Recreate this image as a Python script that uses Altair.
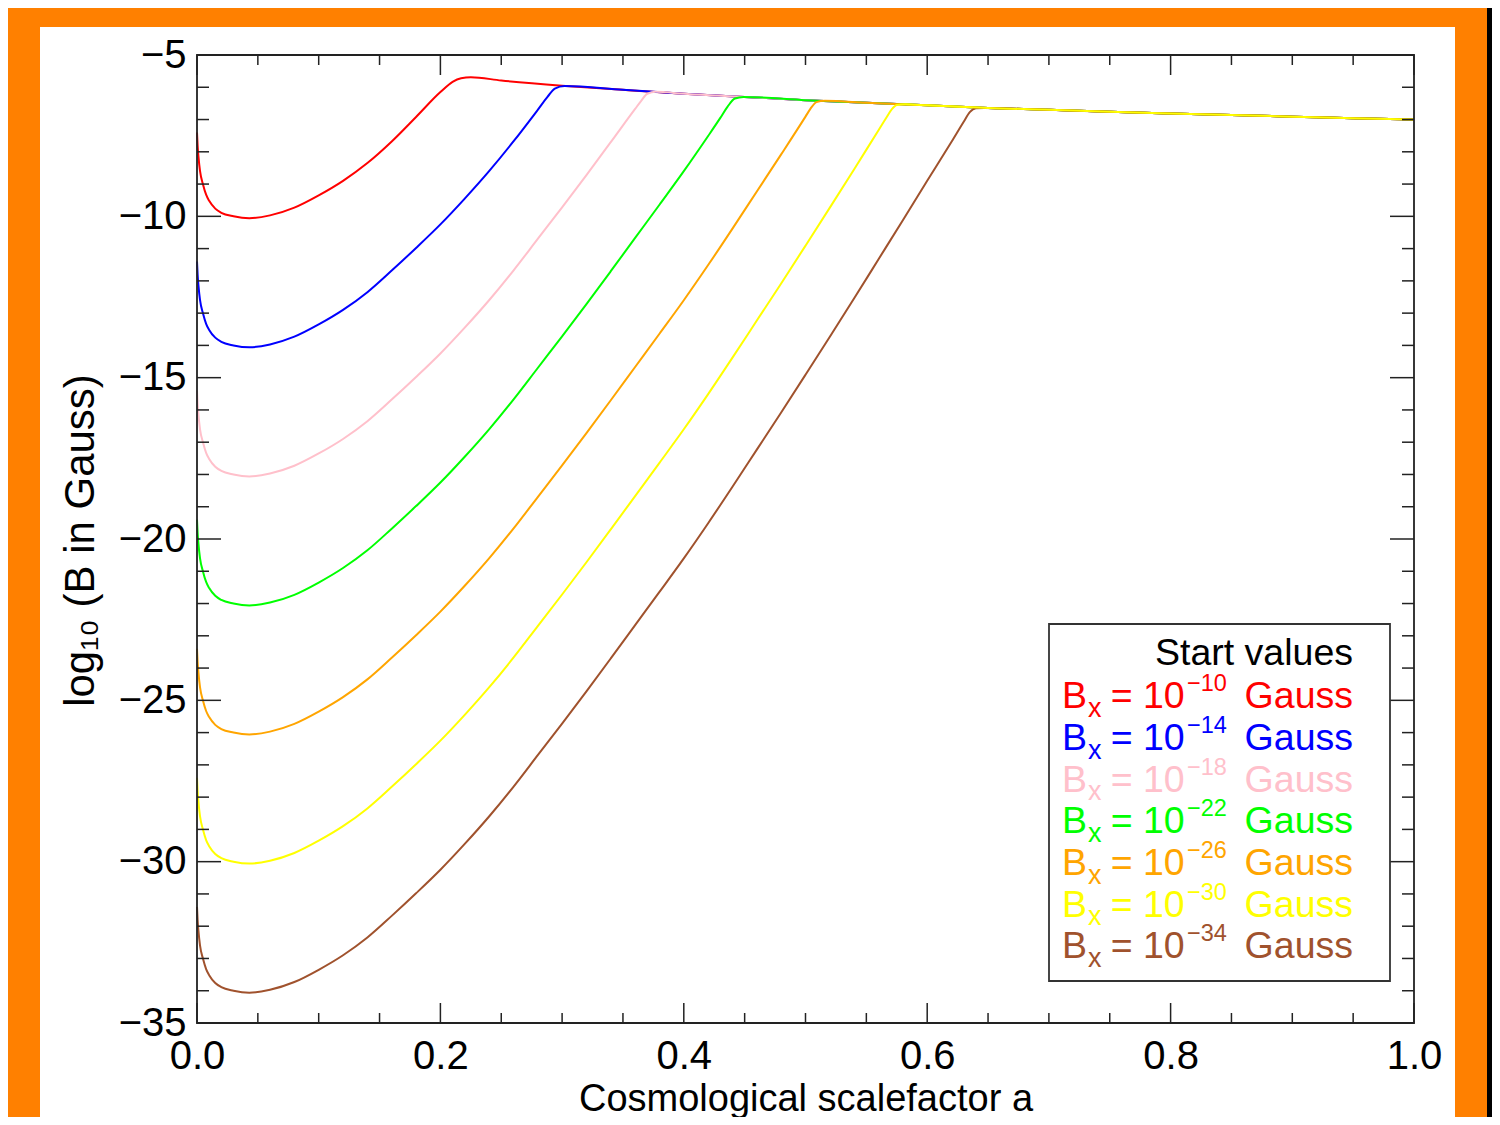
import altair as alt
import pandas as pd

# ---------------- data ----------------
series_names = ["s0 1e-10", "s1 1e-14", "s2 1e-18", "s3 1e-22", "s4 1e-26", "s6 1e-30", "s5 1e-34"]
series_colors = ["#FF0000", "#0000FF", "#FFC0CB", "#00FF00", "#FFA500", "#FFFF00", "#A0522D"]
legend_exps = ["\u221210", "\u221214", "\u221218", "\u221222", "\u221226", "\u221230", "\u221234"]

a_early = [0.0, 0.0005, 0.0012, 0.0025, 0.005, 0.0075, 0.01, 0.015, 0.02, 0.03, 0.043, 0.06, 0.08, 0.10, 0.12, 0.14, 0.16]

red_a = a_early + [0.18, 0.20, 0.21, 0.217, 0.225]
red_v = [-7.4, -7.8, -8.15, -8.6, -9.02, -9.33, -9.52, -9.76, -9.89, -10.0, -10.06, -9.97, -9.73, -9.35, -8.9, -8.35, -7.68,
         -6.92, -6.15, -5.83, -5.72, -5.69]

blue_a = a_early + [0.18, 0.20, 0.22, 0.24, 0.26, 0.28, 0.288, 0.294, 0.302]
blue_v = [-11.4, -11.8, -12.15, -12.6, -13.02, -13.33, -13.52, -13.76, -13.89, -14.0, -14.06, -13.97, -13.73, -13.35, -12.9, -12.35, -11.68,
          -10.98, -10.25, -9.45, -8.6, -7.68, -6.7, -6.3, -6.04, -5.96]

pink_a = a_early + [0.18, 0.20, 0.22, 0.24, 0.26, 0.28, 0.30, 0.32, 0.34, 0.36, 0.365, 0.37, 0.377]
pink_v = [-15.4, -15.8, -16.15, -16.6, -17.02, -17.33, -17.52, -17.76, -17.89, -18.0, -18.06, -17.97, -17.73, -17.35, -16.9, -16.35, -15.68,
          -14.98, -14.25, -13.45, -12.6, -11.68, -10.7, -9.72, -8.72, -7.7, -6.67, -6.42, -6.2, -6.14]

green_a = a_early + [0.18, 0.20, 0.22, 0.24, 0.26, 0.28, 0.30, 0.32, 0.34, 0.36, 0.38, 0.40, 0.42, 0.43, 0.436, 0.442, 0.449]
green_v = [-19.4, -19.8, -20.15, -20.6, -21.02, -21.33, -21.52, -21.76, -21.89, -22.0, -22.06, -21.97, -21.73, -21.35, -20.9, -20.35, -19.68,
           -18.98, -18.25, -17.45, -16.6, -15.68, -14.7, -13.72, -12.72, -11.7, -10.67, -9.64, -8.6, -7.51, -6.95, -6.6, -6.35, -6.3]

orange_a = a_early + [0.18, 0.20, 0.22, 0.24, 0.26, 0.28, 0.30, 0.32, 0.34, 0.36, 0.38, 0.40, 0.42, 0.44, 0.46, 0.48, 0.50,
                      0.504, 0.509, 0.516]
orange_v = [-23.4, -23.8, -24.15, -24.6, -25.02, -25.33, -25.52, -25.76, -25.89, -26.0, -26.06, -25.97, -25.73, -25.35, -24.9, -24.35, -23.68,
            -22.98, -22.25, -21.45, -20.6, -19.68, -18.7, -17.72, -16.72, -15.7, -14.67, -13.64, -12.6, -11.51, -10.38, -9.23,
            -8.08, -6.91, -6.67, -6.46, -6.42]

yellow_a = a_early + [0.18, 0.20, 0.22, 0.24, 0.26, 0.28, 0.30, 0.32, 0.34, 0.36, 0.38, 0.40, 0.42, 0.44, 0.46, 0.48, 0.50,
                      0.52, 0.54, 0.56, 0.566, 0.571, 0.575, 0.582]
yellow_v = [-27.4, -27.8, -28.15, -28.6, -29.02, -29.33, -29.52, -29.76, -29.89, -30.0, -30.06, -29.97, -29.73, -29.35, -28.9, -28.35, -27.68,
            -26.98, -26.25, -25.45, -24.6, -23.68, -22.7, -21.72, -20.72, -19.7, -18.67, -17.64, -16.6, -15.51, -14.38, -13.23,
            -12.08, -10.91, -9.73, -8.54, -7.33, -6.97, -6.68, -6.55, -6.53]

brown_a = a_early + [0.18, 0.20, 0.22, 0.24, 0.26, 0.28, 0.30, 0.32, 0.34, 0.36, 0.38, 0.40, 0.42, 0.44, 0.46, 0.48, 0.50,
                     0.52, 0.54, 0.56, 0.58, 0.60, 0.62, 0.63, 0.635, 0.64, 0.647]
brown_v = [-31.4, -31.8, -32.15, -32.6, -33.02, -33.33, -33.52, -33.76, -33.89, -34.0, -34.06, -33.97, -33.73, -33.35, -32.9, -32.35, -31.68,
           -30.98, -30.25, -29.45, -28.6, -27.68, -26.7, -25.72, -24.72, -23.7, -22.67, -21.64, -20.6, -19.51, -18.38, -17.23,
           -16.08, -14.91, -13.73, -12.54, -11.33, -10.12, -8.9, -7.69, -7.07, -6.77, -6.65, -6.64]

# common saturated envelope followed by every curve after its bend
sat_a = [0.25, 0.30, 0.35, 0.40, 0.45, 0.50, 0.55, 0.60, 0.65, 0.70, 0.75, 0.80, 0.85, 0.90, 0.95, 1.0]
sat_v = [-5.79, -5.95, -6.08, -6.2, -6.3, -6.4, -6.48, -6.56, -6.64, -6.7, -6.76, -6.81, -6.86, -6.91, -6.96, -7.0]

x_major = [0.0, 0.2, 0.4, 0.6, 0.8, 1.0]
x_minor = [0.05, 0.1, 0.15, 0.25, 0.3, 0.35, 0.45, 0.5, 0.55, 0.65, 0.7, 0.75, 0.85, 0.9, 0.95]
y_major = [-35, -30, -25, -20, -15, -10, -5]
y_minor = [v for v in range(-34, -5) if v % 5 != 0]

# ---------------- build tables ----------------
rise = [(red_a, red_v), (blue_a, blue_v), (pink_a, pink_v), (green_a, green_v),
        (orange_a, orange_v), (yellow_a, yellow_v), (brown_a, brown_v)]
draw_order = [0, 1, 2, 3, 4, 6, 5]  # yellow drawn last, so it shows on the shared top line
rows = []
for k in draw_order:
    aa, vv = rise[k]
    last = aa[-1]
    pts = list(zip(aa, vv)) + [(sa, sv) for sa, sv in zip(sat_a, sat_v) if sa > last + 0.004]
    for i, (a, v) in enumerate(pts):
        rows.append({"a": a, "v": v, "series": series_names[k], "i": i})
df = pd.DataFrame(rows)

W, H = 1217, 968
SANS = "Liberation Sans, Arial, Helvetica, sans-serif"
ORANGE = "#FF8000"

xs = alt.Scale(domain=[0, 1], nice=False, zero=False)
ys = alt.Scale(domain=[-35, -5], nice=False, zero=False)
one = pd.DataFrame({"z": [0]})


def pxrect(x1, x2, y1, y2, **kw):
    return alt.Chart(one).mark_rect(**kw).encode(
        x=alt.value(x1), x2=alt.value(x2), y=alt.value(y1), y2=alt.value(y2))


# orange frame around the white page (outside the axes area)
frame_bg = [
    pxrect(-200, -157, -60, 1120, fill=ORANGE),
    pxrect(-200, 1300, -60, -28, fill=ORANGE),
    pxrect(1258, 1290, -60, 1120, fill=ORANGE),
    pxrect(1290, 1320, -60, 1120, fill="black"),
]

lines = alt.Chart(df).mark_line(strokeWidth=2, interpolate="monotone").encode(
    x=alt.X("a:Q", scale=xs, axis=alt.Axis(
        values=x_major, format=".1f", grid=False, domain=False, ticks=False, tickSize=0,
        labelFont=SANS, labelFontSize=40, labelPadding=13, labelColor="black",
        labelFlush=False, labelOverlap=False,
        title="Cosmological scalefactor a", titleFont=SANS, titleFontSize=38,
        titleFontWeight="normal", titleColor="black", titleY=87, titleBaseline="alphabetic")),
    y=alt.Y("v:Q", scale=ys, axis=alt.Axis(
        values=y_major, format="d", grid=False, domain=False, ticks=False, tickSize=0,
        labelFont=SANS, labelFontSize=40, labelPadding=11, labelColor="black",
        labelFlush=False, labelOverlap=False,
        title="log\u2081\u2080 (B in Gauss)", titleFont=SANS, titleFontSize=42,
        titleFontWeight="normal", titleColor="black", titleX=-117, titleY=485,
        titleAngle=270, titleAlign="center", titleBaseline="middle")),
    color=alt.Color("series:N", scale=alt.Scale(domain=series_names, range=series_colors), legend=None),
    order="i:Q",
)

TICK = "#222222"
xmaj = pd.DataFrame({"t": x_major})
xmin = pd.DataFrame({"t": x_minor})
ymaj = pd.DataFrame({"t": y_major})
ymin = pd.DataFrame({"t": y_minor})


def xticks(d, ln):
    b = alt.Chart(d).mark_rule(color=TICK, strokeWidth=1.5).encode(
        x=alt.X("t:Q", scale=xs, axis=None), y=alt.value(H), y2=alt.value(H - ln))
    t = alt.Chart(d).mark_rule(color=TICK, strokeWidth=1.5).encode(
        x=alt.X("t:Q", scale=xs, axis=None), y=alt.value(0), y2=alt.value(ln))
    return [b, t]


def yticks(d, ln):
    l = alt.Chart(d).mark_rule(color=TICK, strokeWidth=1.5).encode(
        y=alt.Y("t:Q", scale=ys, axis=None), x=alt.value(0), x2=alt.value(ln))
    r = alt.Chart(d).mark_rule(color=TICK, strokeWidth=1.5).encode(
        y=alt.Y("t:Q", scale=ys, axis=None), x=alt.value(W), x2=alt.value(W - ln))
    return [l, r]


ticks = xticks(xmaj, 20) + xticks(xmin, 10) + yticks(ymaj, 24) + yticks(ymin, 12)

frame = pxrect(0, W, 0, H, fillOpacity=0, stroke=TICK, strokeWidth=1.8)

# ---------------- legend box with coloured text ----------------
leg_box = pxrect(852, 1193, 569, 926, fill="white", stroke="#333333", strokeWidth=1.8)

row_y = [653.3, 695.0, 736.7, 778.3, 820.0, 861.7, 903.3]
left_rows, right_rows, center_rows = [], [], []
right_rows.append({"px": 1156, "py": 610, "txt": "Start values", "col": "black", "fs": 37.5})
for k in range(7):
    y0 = row_y[k]
    c = series_colors[k]
    left_rows.append({"px": 865, "py": y0, "txt": "B", "col": c, "fs": 37.5})
    left_rows.append({"px": 891, "py": y0 + 8.5, "txt": "x", "col": c, "fs": 27})
    center_rows.append({"px": 924.7, "py": y0, "txt": "=", "col": c, "fs": 37.5})
    left_rows.append({"px": 946, "py": y0, "txt": "10", "col": c, "fs": 37.5})
    left_rows.append({"px": 990, "py": y0 - 17, "txt": legend_exps[k], "col": c, "fs": 23.5})
    right_rows.append({"px": 1156, "py": y0, "txt": "Gauss", "col": c, "fs": 37.5})


def textlayer(rows_, align):
    return alt.Chart(pd.DataFrame(rows_)).mark_text(
        align=align, baseline="alphabetic", font=SANS).encode(
        x=alt.X("px:Q", scale=None, axis=None),
        y=alt.Y("py:Q", scale=None, axis=None),
        text="txt:N",
        color=alt.Color("col:N", scale=None),
        size=alt.Size("fs:Q", scale=None),
    )


legend_layers = [textlayer(left_rows, "left"), textlayer(center_rows, "center"), textlayer(right_rows, "right")]

chart = alt.layer(*frame_bg, lines, *ticks, frame, leg_box, *legend_layers).resolve_axis(
    x="independent", y="independent"
).properties(
    width=W, height=H,
    autosize=alt.AutoSizeParams(type="none"),
    padding={"left": 189, "top": 47, "right": 78, "bottom": 94},
).configure(background="white").configure_view(stroke=None)

chart.save("out.html", embed_options={"renderer": "svg", "actions": False})
